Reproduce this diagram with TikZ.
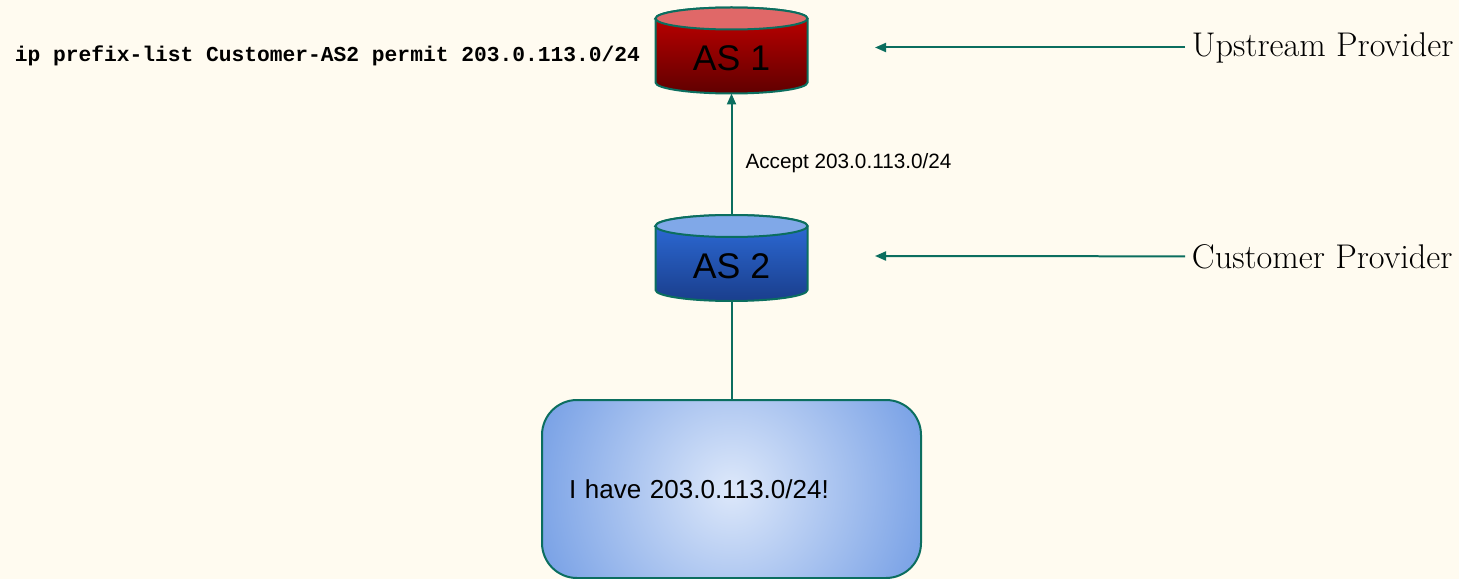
\documentclass[tikz,border=0pt]{standalone}
\usepackage{fontspec}
\usepackage{tikz}
\usetikzlibrary{
    arrows.meta,
    positioning,
    shapes.geometric
}
\newfontfamily\arialfont{Liberation Sans}
\newfontfamily\courfont{Liberation Mono}

\definecolor{bgcream}{RGB}{255,251,240}
\definecolor{tealline}{RGB}{11,110,95}
\definecolor{redtop}{RGB}{224,104,104}
\definecolor{redhi}{RGB}{196,0,0}
\definecolor{redlo}{RGB}{96,0,0}
\definecolor{bluetop}{RGB}{128,168,232}
\definecolor{bluehi}{RGB}{46,110,220}
\definecolor{bluelo}{RGB}{26,62,140}
\definecolor{boxin}{RGB}{221,232,250}
\definecolor{boxout}{RGB}{122,162,230}

\pgfdeclarelayer{background}
\pgfsetlayers{background,main}

% drum body with its lid, drawn round a named node
\newcommand{\asdrum}[4]{%
\shade[top color=#3, bottom color=#4, draw=tealline, line width=0.04cm]
([yshift=-0.22cm]#1.north west) -- ([yshift=0.22cm]#1.south west)
arc[start angle=180, end angle=360, x radius=1.52cm, y radius=0.22cm]
-- ([yshift=-0.22cm]#1.north east)
arc[start angle=0, end angle=180, x radius=1.52cm, y radius=0.22cm] -- cycle;
\draw[fill=#2, draw=tealline, line width=0.04cm]
([yshift=-0.22cm]#1.north) ellipse[x radius=1.52cm, y radius=0.22cm];
}

\begin{document}
\begin{tikzpicture}[
line width=0.04cm,
asnode/.style={
minimum width=3.04cm,
minimum height=1.72cm,
outer sep=0pt,
text height=23pt,
text depth=0pt,
font=\arialfont\fontsize{20.3}{24}\selectfont
},
claimbox/.style={
draw=tealline,
rounded corners=0.7cm,
path picture={
\shade[inner color=boxin, outer color=boxout]
(path picture bounding box.center) circle (4cm);
},
minimum width=7.58cm,
minimum height=3.56cm,
text width=6.5cm,
inner xsep=0.54cm,
outer sep=0pt,
align=left,
font=\arialfont\fontsize{14.8}{18}\selectfont
},
link/.style={tealline, line width=0.04cm},
linkarrow/.style={-{Triangle[length=0.22cm,width=0.18cm]}},
rolelabel/.style={anchor=west, font=\fontsize{19.5}{23}\selectfont}
]

\useasboundingbox (0,0) rectangle (29.18,-11.58);

\node[asnode] (as1) at (14.63,-1.01) {AS 1};
\node[asnode] (as2) at (14.63,-5.16) {AS 2};

\node[claimbox] (claim) at (14.63,-9.78)
{I have 203.0.113.0/24!};

\node[anchor=east, inner sep=0pt,
font=\courfont\bfseries\fontsize{12.1}{14}\selectfont] (filter)
at (12.82,-1.12) {ip prefix-list Customer-AS2 permit 203.0.113.0/24};

\node[rolelabel] (upstream) at (23.70,-0.95) {Upstream Provider};
\node[rolelabel] (customer) at (23.70,-5.13) {Customer Provider};

\coordinate (upend) at (17.5,-0.95);
\coordinate (custend) at (17.5,-5.12);

\draw[link, linkarrow]
(as2) -- node[pos=0.43, right=0.26cm, inner sep=0pt, text=black,
font=\arialfont\fontsize{11.8}{14}\selectfont]
{Accept 203.0.113.0/24} (as1);

\draw[link] (as2) -- (claim);

\draw[link, linkarrow] (upstream) -- (upend);
\draw[link, linkarrow] (customer) -- (custend);

\begin{pgfonlayer}{background}
\fill[bgcream] (0,0) rectangle (29.18,-11.58);
\asdrum{as1}{redtop}{redhi}{redlo}
\asdrum{as2}{bluetop}{bluehi}{bluelo}
\end{pgfonlayer}

\end{tikzpicture}
\end{document}
